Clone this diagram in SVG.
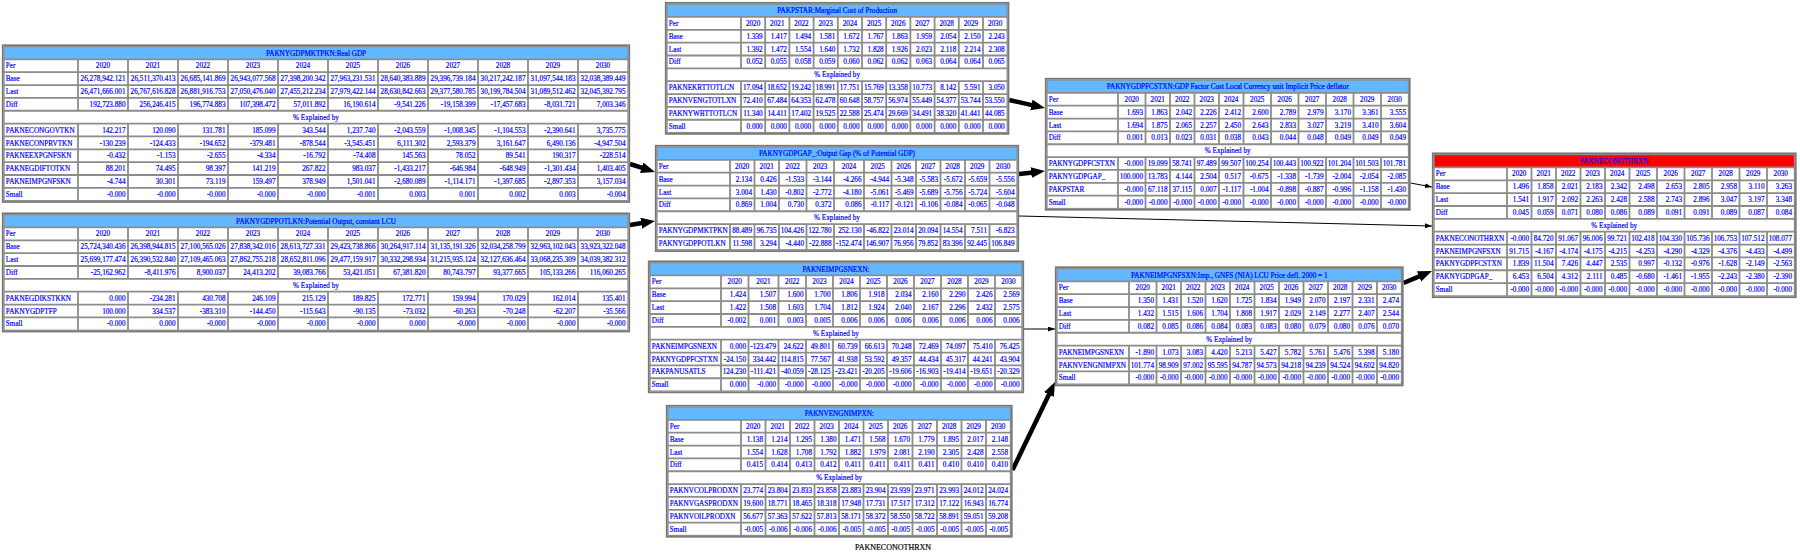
<svg xmlns="http://www.w3.org/2000/svg" width="1800" height="554" viewBox="0 0 1800 554">
<style>
text{font-family:"Liberation Serif","Times New Roman",serif;font-size:7.2px;fill:#0000ff;stroke:#0000ff;stroke-width:0.18}
.l{text-anchor:start}.c{text-anchor:middle}.r{text-anchor:end}
.ob{fill:#fff;stroke:#777;stroke-width:1.8}
.ib{fill:none;stroke:#8c8c8c;stroke-width:1.3}
.gr{fill:none;stroke:#8c8c8c;stroke-width:1.8}
.tb{fill:#63b8ff}.tr{fill:#ff0000}
.thin{stroke:#000;stroke-width:1;fill:none}
.thick{stroke:#000;stroke-width:4.5;fill:none}
.lbl{fill:#000;stroke:#000;font-size:8px;text-anchor:middle}
</style>
<defs>
<marker id="ah" markerUnits="userSpaceOnUse" markerWidth="15" markerHeight="12" refX="4" refY="5.5" orient="auto"><path d="M0,0L14,5.5L0,11z" fill="#000"/></marker>
<marker id="at" markerUnits="userSpaceOnUse" markerWidth="8" markerHeight="6" refX="7" refY="2.5" orient="auto"><path d="M0,0L7,2.5L0,5z" fill="#000"/></marker>
</defs>
<rect width="1800" height="554" fill="#fff"/>

<g id="edges">
<line class="thick" x1="630" y1="164" x2="645.48" y2="168.95" marker-end="url(#ah)"/>
<line class="thick" x1="630" y1="225" x2="645.13" y2="222.58" marker-end="url(#ah)"/>
<line class="thick" x1="1009.2" y1="100" x2="1035.24" y2="105.83" marker-end="url(#ah)"/>
<line class="thick" x1="1019" y1="174" x2="1035.07" y2="172.15" marker-end="url(#ah)"/>
<line class="thin" x1="1024" y1="329" x2="1055" y2="329" marker-end="url(#at)"/>
<line class="thick" x1="1012.5" y1="470" x2="1050.65" y2="391" marker-end="url(#ah)"/>
<line class="thin" x1="1410.5" y1="183" x2="1432" y2="187" marker-end="url(#at)"/>
<line class="thin" x1="1019" y1="216" x2="1432" y2="226" marker-end="url(#at)"/>
<line class="thick" x1="1403.5" y1="283" x2="1422.78" y2="274.88" marker-end="url(#ah)"/>
</g>

<g id="PAKNYGDPMKTPKN" transform="translate(2,44.5)">
<rect class="ob" x="0.75" y="0.75" width="626.5" height="156.7"/>
<rect class="tb" x="2" y="2" width="624" height="12.85"/>
<path class="gr" d="M2,14.85H626M2,27.7H626M2,40.55H626M2,53.4H626M2,66.25H626M2,79.1H626M2,91.95H626M2,104.8H626M2,117.65H626M2,130.5H626M2,143.35H626M76,14.85V66.25M76,79.1V156.2M126,14.85V66.25M126,79.1V156.2M176,14.85V66.25M176,79.1V156.2M226,14.85V66.25M226,79.1V156.2M276,14.85V66.25M276,79.1V156.2M326,14.85V66.25M326,79.1V156.2M376,14.85V66.25M376,79.1V156.2M426,14.85V66.25M426,79.1V156.2M476,14.85V66.25M476,79.1V156.2M526,14.85V66.25M526,79.1V156.2M576,14.85V66.25M576,79.1V156.2"/>
<rect class="ib" x="2" y="2" width="624" height="154.2"/>
<text class="c" x="314" y="11">PAKNYGDPMKTPKN:Real GDP</text>
<text class="c" x="314" y="75.3">% Explained by</text>
<text class="l"><tspan x="3.8" y="23.9">Per</tspan><tspan x="3.8" y="36.7">Base</tspan><tspan x="3.8" y="49.6">Last</tspan><tspan x="3.8" y="62.4">Diff</tspan><tspan x="3.8" y="88.1">PAKNECONGOVTKN</tspan><tspan x="3.8" y="101">PAKNECONPRVTKN</tspan><tspan x="3.8" y="113.8">PAKNEEXPGNFSKN</tspan><tspan x="3.8" y="126.7">PAKNEGDIFTOTKN</tspan><tspan x="3.8" y="139.5">PAKNEIMPGNFSKN</tspan><tspan x="3.8" y="152.4">Small</tspan></text>
<text class="c" y="23.9"><tspan x="101">2020</tspan><tspan x="151">2021</tspan><tspan x="201">2022</tspan><tspan x="251">2023</tspan><tspan x="301">2024</tspan><tspan x="351">2025</tspan><tspan x="401">2026</tspan><tspan x="451">2027</tspan><tspan x="501">2028</tspan><tspan x="551">2029</tspan><tspan x="601">2030</tspan></text>
<text class="r" y="36.7"><tspan x="123.5">26,278,942.121</tspan><tspan x="173.5">26,511,370.413</tspan><tspan x="223.5">26,685,141.869</tspan><tspan x="273.5">26,943,077.568</tspan><tspan x="323.5">27,398,200.342</tspan><tspan x="373.5">27,963,231.531</tspan><tspan x="423.5">28,640,383.889</tspan><tspan x="473.5">29,396,739.184</tspan><tspan x="523.5">30,217,242.187</tspan><tspan x="573.5">31,097,544.183</tspan><tspan x="623.5">32,038,389.449</tspan></text>
<text class="r" y="49.6"><tspan x="123.5">26,471,666.001</tspan><tspan x="173.5">26,767,616.828</tspan><tspan x="223.5">26,881,916.753</tspan><tspan x="273.5">27,050,476.040</tspan><tspan x="323.5">27,455,212.234</tspan><tspan x="373.5">27,979,422.144</tspan><tspan x="423.5">28,630,842.663</tspan><tspan x="473.5">29,377,580.785</tspan><tspan x="523.5">30,199,784.504</tspan><tspan x="573.5">31,089,512.462</tspan><tspan x="623.5">32,045,392.795</tspan></text>
<text class="r" y="62.4"><tspan x="123.5">192,723.880</tspan><tspan x="173.5">256,246.415</tspan><tspan x="223.5">196,774.883</tspan><tspan x="273.5">107,398.472</tspan><tspan x="323.5">57,011.892</tspan><tspan x="373.5">16,190.614</tspan><tspan x="423.5">-9,541.226</tspan><tspan x="473.5">-19,158.399</tspan><tspan x="523.5">-17,457.683</tspan><tspan x="573.5">-8,031.721</tspan><tspan x="623.5">7,003.346</tspan></text>
<text class="r" y="88.1"><tspan x="123.5">142.217</tspan><tspan x="173.5">120.090</tspan><tspan x="223.5">131.781</tspan><tspan x="273.5">185.099</tspan><tspan x="323.5">343.544</tspan><tspan x="373.5">1,237.740</tspan><tspan x="423.5">-2,043.559</tspan><tspan x="473.5">-1,008.345</tspan><tspan x="523.5">-1,104.553</tspan><tspan x="573.5">-2,390.641</tspan><tspan x="623.5">3,735.775</tspan></text>
<text class="r" y="101"><tspan x="123.5">-130.239</tspan><tspan x="173.5">-124.433</tspan><tspan x="223.5">-194.652</tspan><tspan x="273.5">-379.481</tspan><tspan x="323.5">-878.544</tspan><tspan x="373.5">-3,545.451</tspan><tspan x="423.5">6,111.302</tspan><tspan x="473.5">2,593.379</tspan><tspan x="523.5">3,161.647</tspan><tspan x="573.5">6,490.136</tspan><tspan x="623.5">-4,947.504</tspan></text>
<text class="r" y="113.8"><tspan x="123.5">-0.432</tspan><tspan x="173.5">-1.153</tspan><tspan x="223.5">-2.655</tspan><tspan x="273.5">-4.334</tspan><tspan x="323.5">-16.792</tspan><tspan x="373.5">-74.408</tspan><tspan x="423.5">145.563</tspan><tspan x="473.5">78.052</tspan><tspan x="523.5">89.541</tspan><tspan x="573.5">190.317</tspan><tspan x="623.5">-228.514</tspan></text>
<text class="r" y="126.7"><tspan x="123.5">88.201</tspan><tspan x="173.5">74.495</tspan><tspan x="223.5">98.397</tspan><tspan x="273.5">141.219</tspan><tspan x="323.5">267.822</tspan><tspan x="373.5">983.037</tspan><tspan x="423.5">-1,433.217</tspan><tspan x="473.5">-646.984</tspan><tspan x="523.5">-648.949</tspan><tspan x="573.5">-1,301.434</tspan><tspan x="623.5">1,403.405</tspan></text>
<text class="r" y="139.5"><tspan x="123.5">-4.744</tspan><tspan x="173.5">30.301</tspan><tspan x="223.5">73.119</tspan><tspan x="273.5">159.497</tspan><tspan x="323.5">378.949</tspan><tspan x="373.5">1,501.041</tspan><tspan x="423.5">-2,680.089</tspan><tspan x="473.5">-1,114.171</tspan><tspan x="523.5">-1,397.685</tspan><tspan x="573.5">-2,897.353</tspan><tspan x="623.5">3,157.034</tspan></text>
<text class="r" y="152.4"><tspan x="123.5">-0.000</tspan><tspan x="173.5">-0.000</tspan><tspan x="223.5">-0.000</tspan><tspan x="273.5">-0.000</tspan><tspan x="323.5">-0.000</tspan><tspan x="373.5">-0.001</tspan><tspan x="423.5">0.003</tspan><tspan x="473.5">0.001</tspan><tspan x="523.5">0.002</tspan><tspan x="573.5">0.003</tspan><tspan x="623.5">-0.004</tspan></text>
</g>

<g id="PAKNYGDPPOTLKN" transform="translate(2,212.6)">
<rect class="ob" x="0.75" y="0.75" width="626.5" height="118.15"/>
<rect class="tb" x="2" y="2" width="624" height="12.85"/>
<path class="gr" d="M2,14.85H626M2,27.7H626M2,40.55H626M2,53.4H626M2,66.25H626M2,79.1H626M2,91.95H626M2,104.8H626M76,14.85V66.25M76,79.1V117.65M126,14.85V66.25M126,79.1V117.65M176,14.85V66.25M176,79.1V117.65M226,14.85V66.25M226,79.1V117.65M276,14.85V66.25M276,79.1V117.65M326,14.85V66.25M326,79.1V117.65M376,14.85V66.25M376,79.1V117.65M426,14.85V66.25M426,79.1V117.65M476,14.85V66.25M476,79.1V117.65M526,14.85V66.25M526,79.1V117.65M576,14.85V66.25M576,79.1V117.65"/>
<rect class="ib" x="2" y="2" width="624" height="115.65"/>
<text class="c" x="314" y="11">PAKNYGDPPOTLKN:Potential Output, constant LCU</text>
<text class="c" x="314" y="75.3">% Explained by</text>
<text class="l"><tspan x="3.8" y="23.9">Per</tspan><tspan x="3.8" y="36.7">Base</tspan><tspan x="3.8" y="49.6">Last</tspan><tspan x="3.8" y="62.4">Diff</tspan><tspan x="3.8" y="88.1">PAKNEGDIKSTKKN</tspan><tspan x="3.8" y="101">PAKNYGDPTFP</tspan><tspan x="3.8" y="113.8">Small</tspan></text>
<text class="c" y="23.9"><tspan x="101">2020</tspan><tspan x="151">2021</tspan><tspan x="201">2022</tspan><tspan x="251">2023</tspan><tspan x="301">2024</tspan><tspan x="351">2025</tspan><tspan x="401">2026</tspan><tspan x="451">2027</tspan><tspan x="501">2028</tspan><tspan x="551">2029</tspan><tspan x="601">2030</tspan></text>
<text class="r" y="36.7"><tspan x="123.5">25,724,340.436</tspan><tspan x="173.5">26,398,944.815</tspan><tspan x="223.5">27,100,565.026</tspan><tspan x="273.5">27,838,342.016</tspan><tspan x="323.5">28,613,727.331</tspan><tspan x="373.5">29,423,738.866</tspan><tspan x="423.5">30,264,917.114</tspan><tspan x="473.5">31,135,191.326</tspan><tspan x="523.5">32,034,258.799</tspan><tspan x="573.5">32,963,102.043</tspan><tspan x="623.5">33,923,322.048</tspan></text>
<text class="r" y="49.6"><tspan x="123.5">25,699,177.474</tspan><tspan x="173.5">26,390,532.840</tspan><tspan x="223.5">27,109,465.063</tspan><tspan x="273.5">27,862,755.218</tspan><tspan x="323.5">28,652,811.096</tspan><tspan x="373.5">29,477,159.917</tspan><tspan x="423.5">30,332,298.934</tspan><tspan x="473.5">31,215,935.124</tspan><tspan x="523.5">32,127,636.464</tspan><tspan x="573.5">33,068,235.309</tspan><tspan x="623.5">34,039,382.312</tspan></text>
<text class="r" y="62.4"><tspan x="123.5">-25,162.962</tspan><tspan x="173.5">-8,411.976</tspan><tspan x="223.5">8,900.037</tspan><tspan x="273.5">24,413.202</tspan><tspan x="323.5">39,083.766</tspan><tspan x="373.5">53,421.051</tspan><tspan x="423.5">67,381.820</tspan><tspan x="473.5">80,743.797</tspan><tspan x="523.5">93,377.665</tspan><tspan x="573.5">105,133.266</tspan><tspan x="623.5">116,060.265</tspan></text>
<text class="r" y="88.1"><tspan x="123.5">0.000</tspan><tspan x="173.5">-234.281</tspan><tspan x="223.5">430.708</tspan><tspan x="273.5">246.109</tspan><tspan x="323.5">215.129</tspan><tspan x="373.5">189.825</tspan><tspan x="423.5">172.771</tspan><tspan x="473.5">159.994</tspan><tspan x="523.5">170.029</tspan><tspan x="573.5">162.014</tspan><tspan x="623.5">135.401</tspan></text>
<text class="r" y="101"><tspan x="123.5">100.000</tspan><tspan x="173.5">334.537</tspan><tspan x="223.5">-383.310</tspan><tspan x="273.5">-144.450</tspan><tspan x="323.5">-115.643</tspan><tspan x="373.5">-90.135</tspan><tspan x="423.5">-73.032</tspan><tspan x="473.5">-60.263</tspan><tspan x="523.5">-70.248</tspan><tspan x="573.5">-62.207</tspan><tspan x="623.5">-35.566</tspan></text>
<text class="r" y="113.8"><tspan x="123.5">-0.000</tspan><tspan x="173.5">0.000</tspan><tspan x="223.5">-0.000</tspan><tspan x="273.5">-0.000</tspan><tspan x="323.5">-0.000</tspan><tspan x="373.5">-0.000</tspan><tspan x="423.5">0.000</tspan><tspan x="473.5">-0.000</tspan><tspan x="523.5">-0.000</tspan><tspan x="573.5">-0.000</tspan><tspan x="623.5">-0.000</tspan></text>
</g>

<g id="PAKPSTAR" transform="translate(665,2.1)">
<rect class="ob" x="0.75" y="0.75" width="342.7" height="131"/>
<rect class="tb" x="2" y="2" width="340.2" height="12.85"/>
<path class="gr" d="M2,14.85H342.2M2,27.7H342.2M2,40.55H342.2M2,53.4H342.2M2,66.25H342.2M2,79.1H342.2M2,91.95H342.2M2,104.8H342.2M2,117.65H342.2M76,14.85V66.25M76,79.1V130.5M100.2,14.85V66.25M100.2,79.1V130.5M124.4,14.85V66.25M124.4,79.1V130.5M148.6,14.85V66.25M148.6,79.1V130.5M172.8,14.85V66.25M172.8,79.1V130.5M197,14.85V66.25M197,79.1V130.5M221.2,14.85V66.25M221.2,79.1V130.5M245.4,14.85V66.25M245.4,79.1V130.5M269.6,14.85V66.25M269.6,79.1V130.5M293.8,14.85V66.25M293.8,79.1V130.5M318,14.85V66.25M318,79.1V130.5"/>
<rect class="ib" x="2" y="2" width="340.2" height="128.5"/>
<text class="c" x="172.1" y="11">PAKPSTAR:Marginal Cost of Production</text>
<text class="c" x="172.1" y="75.3">% Explained by</text>
<text class="l"><tspan x="3.8" y="23.9">Per</tspan><tspan x="3.8" y="36.7">Base</tspan><tspan x="3.8" y="49.6">Last</tspan><tspan x="3.8" y="62.4">Diff</tspan><tspan x="3.8" y="88.1">PAKNEKRTTOTLCN</tspan><tspan x="3.8" y="101">PAKNVENGTOTLXN</tspan><tspan x="3.8" y="113.8">PAKNYWBTTOTLCN</tspan><tspan x="3.8" y="126.7">Small</tspan></text>
<text class="c" y="23.9"><tspan x="88.1">2020</tspan><tspan x="112.3">2021</tspan><tspan x="136.5">2022</tspan><tspan x="160.7">2023</tspan><tspan x="184.9">2024</tspan><tspan x="209.1">2025</tspan><tspan x="233.3">2026</tspan><tspan x="257.5">2027</tspan><tspan x="281.7">2028</tspan><tspan x="305.9">2029</tspan><tspan x="330.1">2030</tspan></text>
<text class="r" y="36.7"><tspan x="97.7">1.339</tspan><tspan x="121.9">1.417</tspan><tspan x="146.1">1.494</tspan><tspan x="170.3">1.581</tspan><tspan x="194.5">1.672</tspan><tspan x="218.7">1.767</tspan><tspan x="242.9">1.863</tspan><tspan x="267.1">1.959</tspan><tspan x="291.3">2.054</tspan><tspan x="315.5">2.150</tspan><tspan x="339.7">2.243</tspan></text>
<text class="r" y="49.6"><tspan x="97.7">1.392</tspan><tspan x="121.9">1.472</tspan><tspan x="146.1">1.554</tspan><tspan x="170.3">1.640</tspan><tspan x="194.5">1.732</tspan><tspan x="218.7">1.828</tspan><tspan x="242.9">1.926</tspan><tspan x="267.1">2.023</tspan><tspan x="291.3">2.118</tspan><tspan x="315.5">2.214</tspan><tspan x="339.7">2.308</tspan></text>
<text class="r" y="62.4"><tspan x="97.7">0.052</tspan><tspan x="121.9">0.055</tspan><tspan x="146.1">0.058</tspan><tspan x="170.3">0.059</tspan><tspan x="194.5">0.060</tspan><tspan x="218.7">0.062</tspan><tspan x="242.9">0.062</tspan><tspan x="267.1">0.063</tspan><tspan x="291.3">0.064</tspan><tspan x="315.5">0.064</tspan><tspan x="339.7">0.065</tspan></text>
<text class="r" y="88.1"><tspan x="97.7">17.094</tspan><tspan x="121.9">18.652</tspan><tspan x="146.1">19.242</tspan><tspan x="170.3">18.991</tspan><tspan x="194.5">17.751</tspan><tspan x="218.7">15.769</tspan><tspan x="242.9">13.358</tspan><tspan x="267.1">10.773</tspan><tspan x="291.3">8.142</tspan><tspan x="315.5">5.591</tspan><tspan x="339.7">3.050</tspan></text>
<text class="r" y="101"><tspan x="97.7">72.410</tspan><tspan x="121.9">67.484</tspan><tspan x="146.1">64.353</tspan><tspan x="170.3">62.478</tspan><tspan x="194.5">60.648</tspan><tspan x="218.7">58.757</tspan><tspan x="242.9">56.974</tspan><tspan x="267.1">55.449</tspan><tspan x="291.3">54.377</tspan><tspan x="315.5">53.744</tspan><tspan x="339.7">53.550</tspan></text>
<text class="r" y="113.8"><tspan x="97.7">11.340</tspan><tspan x="121.9">14.411</tspan><tspan x="146.1">17.402</tspan><tspan x="170.3">19.525</tspan><tspan x="194.5">22.588</tspan><tspan x="218.7">25.474</tspan><tspan x="242.9">29.669</tspan><tspan x="267.1">34.491</tspan><tspan x="291.3">38.320</tspan><tspan x="315.5">41.441</tspan><tspan x="339.7">44.085</tspan></text>
<text class="r" y="126.7"><tspan x="97.7">0.000</tspan><tspan x="121.9">0.000</tspan><tspan x="146.1">0.000</tspan><tspan x="170.3">0.000</tspan><tspan x="194.5">0.000</tspan><tspan x="218.7">0.000</tspan><tspan x="242.9">0.000</tspan><tspan x="267.1">0.000</tspan><tspan x="291.3">0.000</tspan><tspan x="315.5">0.000</tspan><tspan x="339.7">0.000</tspan></text>
</g>

<g id="PAKNYGDPGAP_" transform="translate(655,145)">
<rect class="ob" x="0.75" y="0.75" width="362.5" height="105.3"/>
<rect class="tb" x="2" y="2" width="360" height="12.85"/>
<path class="gr" d="M2,14.85H362M2,27.7H362M2,40.55H362M2,53.4H362M2,66.25H362M2,79.1H362M2,91.95H362M75,14.85V66.25M75,79.1V104.8M99.5,14.85V66.25M99.5,79.1V104.8M124,14.85V66.25M124,79.1V104.8M151.5,14.85V66.25M151.5,79.1V104.8M179,14.85V66.25M179,79.1V104.8M209,14.85V66.25M209,79.1V104.8M236.5,14.85V66.25M236.5,79.1V104.8M261,14.85V66.25M261,79.1V104.8M285.5,14.85V66.25M285.5,79.1V104.8M310,14.85V66.25M310,79.1V104.8M334.5,14.85V66.25M334.5,79.1V104.8"/>
<rect class="ib" x="2" y="2" width="360" height="102.8"/>
<text class="c" x="182" y="11">PAKNYGDPGAP_:Output Gap (% of Potential GDP)</text>
<text class="c" x="182" y="75.3">% Explained by</text>
<text class="l"><tspan x="3.8" y="23.9">Per</tspan><tspan x="3.8" y="36.7">Base</tspan><tspan x="3.8" y="49.6">Last</tspan><tspan x="3.8" y="62.4">Diff</tspan><tspan x="3.8" y="88.1">PAKNYGDPMKTPKN</tspan><tspan x="3.8" y="101">PAKNYGDPPOTLKN</tspan></text>
<text class="c" y="23.9"><tspan x="87.25">2020</tspan><tspan x="111.75">2021</tspan><tspan x="137.75">2022</tspan><tspan x="165.25">2023</tspan><tspan x="194">2024</tspan><tspan x="222.75">2025</tspan><tspan x="248.75">2026</tspan><tspan x="273.25">2027</tspan><tspan x="297.75">2028</tspan><tspan x="322.25">2029</tspan><tspan x="348.25">2030</tspan></text>
<text class="r" y="36.7"><tspan x="97">2.134</tspan><tspan x="121.5">0.426</tspan><tspan x="149">-1.533</tspan><tspan x="176.5">-3.144</tspan><tspan x="206.5">-4.266</tspan><tspan x="234">-4.944</tspan><tspan x="258.5">-5.348</tspan><tspan x="283">-5.583</tspan><tspan x="307.5">-5.672</tspan><tspan x="332">-5.659</tspan><tspan x="359.5">-5.556</tspan></text>
<text class="r" y="49.6"><tspan x="97">3.004</tspan><tspan x="121.5">1.430</tspan><tspan x="149">-0.802</tspan><tspan x="176.5">-2.772</tspan><tspan x="206.5">-4.180</tspan><tspan x="234">-5.061</tspan><tspan x="258.5">-5.469</tspan><tspan x="283">-5.689</tspan><tspan x="307.5">-5.756</tspan><tspan x="332">-5.724</tspan><tspan x="359.5">-5.604</tspan></text>
<text class="r" y="62.4"><tspan x="97">0.869</tspan><tspan x="121.5">1.004</tspan><tspan x="149">0.730</tspan><tspan x="176.5">0.372</tspan><tspan x="206.5">0.086</tspan><tspan x="234">-0.117</tspan><tspan x="258.5">-0.121</tspan><tspan x="283">-0.106</tspan><tspan x="307.5">-0.084</tspan><tspan x="332">-0.065</tspan><tspan x="359.5">-0.048</tspan></text>
<text class="r" y="88.1"><tspan x="97">88.489</tspan><tspan x="121.5">96.735</tspan><tspan x="149">104.426</tspan><tspan x="176.5">122.780</tspan><tspan x="206.5">252.130</tspan><tspan x="234">-46.822</tspan><tspan x="258.5">23.014</tspan><tspan x="283">20.094</tspan><tspan x="307.5">14.554</tspan><tspan x="332">7.511</tspan><tspan x="359.5">-6.823</tspan></text>
<text class="r" y="101"><tspan x="97">11.598</tspan><tspan x="121.5">3.294</tspan><tspan x="149">-4.440</tspan><tspan x="176.5">-22.888</tspan><tspan x="206.5">-152.474</tspan><tspan x="234">146.907</tspan><tspan x="258.5">76.956</tspan><tspan x="283">79.852</tspan><tspan x="307.5">83.396</tspan><tspan x="332">92.445</tspan><tspan x="359.5">106.849</tspan></text>
</g>

<g id="PAKNEIMPGSNEXN" transform="translate(648,260.6)">
<rect class="ob" x="0.75" y="0.75" width="374.5" height="131"/>
<rect class="tb" x="2" y="2" width="372" height="12.85"/>
<path class="gr" d="M2,14.85H374M2,27.7H374M2,40.55H374M2,53.4H374M2,66.25H374M2,79.1H374M2,91.95H374M2,104.8H374M2,117.65H374M73,14.85V66.25M73,79.1V130.5M100.5,14.85V66.25M100.5,79.1V130.5M130.5,14.85V66.25M130.5,79.1V130.5M158,14.85V66.25M158,79.1V130.5M185,14.85V66.25M185,79.1V130.5M212,14.85V66.25M212,79.1V130.5M239,14.85V66.25M239,79.1V130.5M266,14.85V66.25M266,79.1V130.5M293,14.85V66.25M293,79.1V130.5M320,14.85V66.25M320,79.1V130.5M347,14.85V66.25M347,79.1V130.5"/>
<rect class="ib" x="2" y="2" width="372" height="128.5"/>
<text class="c" x="188" y="11">PAKNEIMPGSNEXN:</text>
<text class="c" x="188" y="75.3">% Explained by</text>
<text class="l"><tspan x="3.8" y="23.9">Per</tspan><tspan x="3.8" y="36.7">Base</tspan><tspan x="3.8" y="49.6">Last</tspan><tspan x="3.8" y="62.4">Diff</tspan><tspan x="3.8" y="88.1">PAKNEIMPGSNEXN</tspan><tspan x="3.8" y="101">PAKNYGDPFCSTXN</tspan><tspan x="3.8" y="113.8">PAKPANUSATLS</tspan><tspan x="3.8" y="126.7">Small</tspan></text>
<text class="c" y="23.9"><tspan x="86.75">2020</tspan><tspan x="115.5">2021</tspan><tspan x="144.25">2022</tspan><tspan x="171.5">2023</tspan><tspan x="198.5">2024</tspan><tspan x="225.5">2025</tspan><tspan x="252.5">2026</tspan><tspan x="279.5">2027</tspan><tspan x="306.5">2028</tspan><tspan x="333.5">2029</tspan><tspan x="360.5">2030</tspan></text>
<text class="r" y="36.7"><tspan x="98">1.424</tspan><tspan x="128">1.507</tspan><tspan x="155.5">1.600</tspan><tspan x="182.5">1.700</tspan><tspan x="209.5">1.806</tspan><tspan x="236.5">1.918</tspan><tspan x="263.5">2.034</tspan><tspan x="290.5">2.160</tspan><tspan x="317.5">2.290</tspan><tspan x="344.5">2.426</tspan><tspan x="371.5">2.569</tspan></text>
<text class="r" y="49.6"><tspan x="98">1.422</tspan><tspan x="128">1.508</tspan><tspan x="155.5">1.603</tspan><tspan x="182.5">1.704</tspan><tspan x="209.5">1.812</tspan><tspan x="236.5">1.924</tspan><tspan x="263.5">2.040</tspan><tspan x="290.5">2.167</tspan><tspan x="317.5">2.296</tspan><tspan x="344.5">2.432</tspan><tspan x="371.5">2.575</tspan></text>
<text class="r" y="62.4"><tspan x="98">-0.002</tspan><tspan x="128">0.001</tspan><tspan x="155.5">0.003</tspan><tspan x="182.5">0.005</tspan><tspan x="209.5">0.006</tspan><tspan x="236.5">0.006</tspan><tspan x="263.5">0.006</tspan><tspan x="290.5">0.006</tspan><tspan x="317.5">0.006</tspan><tspan x="344.5">0.006</tspan><tspan x="371.5">0.006</tspan></text>
<text class="r" y="88.1"><tspan x="98">0.000</tspan><tspan x="128">-123.479</tspan><tspan x="155.5">24.622</tspan><tspan x="182.5">49.801</tspan><tspan x="209.5">60.739</tspan><tspan x="236.5">66.613</tspan><tspan x="263.5">70.248</tspan><tspan x="290.5">72.469</tspan><tspan x="317.5">74.097</tspan><tspan x="344.5">75.410</tspan><tspan x="371.5">76.425</tspan></text>
<text class="r" y="101"><tspan x="98">-24.150</tspan><tspan x="128">334.442</tspan><tspan x="155.5">114.815</tspan><tspan x="182.5">77.567</tspan><tspan x="209.5">41.938</tspan><tspan x="236.5">53.592</tspan><tspan x="263.5">49.357</tspan><tspan x="290.5">44.434</tspan><tspan x="317.5">45.317</tspan><tspan x="344.5">44.241</tspan><tspan x="371.5">43.904</tspan></text>
<text class="r" y="113.8"><tspan x="98">124.230</tspan><tspan x="128">-111.421</tspan><tspan x="155.5">-40.059</tspan><tspan x="182.5">-28.125</tspan><tspan x="209.5">-23.421</tspan><tspan x="236.5">-20.205</tspan><tspan x="263.5">-19.606</tspan><tspan x="290.5">-16.903</tspan><tspan x="317.5">-19.414</tspan><tspan x="344.5">-19.651</tspan><tspan x="371.5">-20.329</tspan></text>
<text class="r" y="126.7"><tspan x="98">0.000</tspan><tspan x="128">-0.000</tspan><tspan x="155.5">-0.000</tspan><tspan x="182.5">-0.000</tspan><tspan x="209.5">-0.000</tspan><tspan x="236.5">-0.000</tspan><tspan x="263.5">-0.000</tspan><tspan x="290.5">-0.000</tspan><tspan x="317.5">-0.000</tspan><tspan x="344.5">-0.000</tspan><tspan x="371.5">-0.000</tspan></text>
</g>

<g id="PAKNVENGNIMPXN" transform="translate(666,405)">
<rect class="ob" x="0.75" y="0.75" width="345" height="131"/>
<rect class="tb" x="2" y="2" width="342.5" height="12.85"/>
<path class="gr" d="M2,14.85H344.5M2,27.7H344.5M2,40.55H344.5M2,53.4H344.5M2,66.25H344.5M2,79.1H344.5M2,91.95H344.5M2,104.8H344.5M2,117.65H344.5M75,14.85V66.25M75,79.1V130.5M99.5,14.85V66.25M99.5,79.1V130.5M124,14.85V66.25M124,79.1V130.5M148.5,14.85V66.25M148.5,79.1V130.5M173,14.85V66.25M173,79.1V130.5M197.5,14.85V66.25M197.5,79.1V130.5M222,14.85V66.25M222,79.1V130.5M246.5,14.85V66.25M246.5,79.1V130.5M271,14.85V66.25M271,79.1V130.5M295.5,14.85V66.25M295.5,79.1V130.5M320,14.85V66.25M320,79.1V130.5"/>
<rect class="ib" x="2" y="2" width="342.5" height="128.5"/>
<text class="c" x="173.25" y="11">PAKNVENGNIMPXN:</text>
<text class="c" x="173.25" y="75.3">% Explained by</text>
<text class="l"><tspan x="3.8" y="23.9">Per</tspan><tspan x="3.8" y="36.7">Base</tspan><tspan x="3.8" y="49.6">Last</tspan><tspan x="3.8" y="62.4">Diff</tspan><tspan x="3.8" y="88.1">PAKNVCOLPRODXN</tspan><tspan x="3.8" y="101">PAKNVGASPRODXN</tspan><tspan x="3.8" y="113.8">PAKNVOILPRODXN</tspan><tspan x="3.8" y="126.7">Small</tspan></text>
<text class="c" y="23.9"><tspan x="87.25">2020</tspan><tspan x="111.75">2021</tspan><tspan x="136.25">2022</tspan><tspan x="160.75">2023</tspan><tspan x="185.25">2024</tspan><tspan x="209.75">2025</tspan><tspan x="234.25">2026</tspan><tspan x="258.75">2027</tspan><tspan x="283.25">2028</tspan><tspan x="307.75">2029</tspan><tspan x="332.25">2030</tspan></text>
<text class="r" y="36.7"><tspan x="97">1.138</tspan><tspan x="121.5">1.214</tspan><tspan x="146">1.295</tspan><tspan x="170.5">1.380</tspan><tspan x="195">1.471</tspan><tspan x="219.5">1.568</tspan><tspan x="244">1.670</tspan><tspan x="268.5">1.779</tspan><tspan x="293">1.895</tspan><tspan x="317.5">2.017</tspan><tspan x="342">2.148</tspan></text>
<text class="r" y="49.6"><tspan x="97">1.554</tspan><tspan x="121.5">1.628</tspan><tspan x="146">1.708</tspan><tspan x="170.5">1.792</tspan><tspan x="195">1.882</tspan><tspan x="219.5">1.979</tspan><tspan x="244">2.081</tspan><tspan x="268.5">2.190</tspan><tspan x="293">2.305</tspan><tspan x="317.5">2.428</tspan><tspan x="342">2.558</tspan></text>
<text class="r" y="62.4"><tspan x="97">0.415</tspan><tspan x="121.5">0.414</tspan><tspan x="146">0.413</tspan><tspan x="170.5">0.412</tspan><tspan x="195">0.411</tspan><tspan x="219.5">0.411</tspan><tspan x="244">0.411</tspan><tspan x="268.5">0.411</tspan><tspan x="293">0.410</tspan><tspan x="317.5">0.410</tspan><tspan x="342">0.410</tspan></text>
<text class="r" y="88.1"><tspan x="97">23.774</tspan><tspan x="121.5">23.804</tspan><tspan x="146">23.833</tspan><tspan x="170.5">23.858</tspan><tspan x="195">23.883</tspan><tspan x="219.5">23.904</tspan><tspan x="244">23.939</tspan><tspan x="268.5">23.971</tspan><tspan x="293">23.993</tspan><tspan x="317.5">24.012</tspan><tspan x="342">24.024</tspan></text>
<text class="r" y="101"><tspan x="97">19.600</tspan><tspan x="121.5">18.771</tspan><tspan x="146">18.465</tspan><tspan x="170.5">18.318</tspan><tspan x="195">17.948</tspan><tspan x="219.5">17.731</tspan><tspan x="244">17.517</tspan><tspan x="268.5">17.312</tspan><tspan x="293">17.122</tspan><tspan x="317.5">16.943</tspan><tspan x="342">16.774</tspan></text>
<text class="r" y="113.8"><tspan x="97">56.677</tspan><tspan x="121.5">57.363</tspan><tspan x="146">57.622</tspan><tspan x="170.5">57.813</tspan><tspan x="195">58.171</tspan><tspan x="219.5">58.372</tspan><tspan x="244">58.550</tspan><tspan x="268.5">58.722</tspan><tspan x="293">58.891</tspan><tspan x="317.5">59.051</tspan><tspan x="342">59.208</tspan></text>
<text class="r" y="126.7"><tspan x="97">-0.005</tspan><tspan x="121.5">-0.006</tspan><tspan x="146">-0.006</tspan><tspan x="170.5">-0.006</tspan><tspan x="195">-0.005</tspan><tspan x="219.5">-0.005</tspan><tspan x="244">-0.005</tspan><tspan x="268.5">-0.005</tspan><tspan x="293">-0.005</tspan><tspan x="317.5">-0.005</tspan><tspan x="342">-0.005</tspan></text>
</g>

<g id="PAKNYGDPFCSTXN" transform="translate(1045,78)">
<rect class="ob" x="0.75" y="0.75" width="364" height="131"/>
<rect class="tb" x="2" y="2" width="361.5" height="12.85"/>
<path class="gr" d="M2,14.85H363.5M2,27.7H363.5M2,40.55H363.5M2,53.4H363.5M2,66.25H363.5M2,79.1H363.5M2,91.95H363.5M2,104.8H363.5M2,117.65H363.5M73,14.85V66.25M73,79.1V130.5M100.5,14.85V66.25M100.5,79.1V130.5M125,14.85V66.25M125,79.1V130.5M149.5,14.85V66.25M149.5,79.1V130.5M174,14.85V66.25M174,79.1V130.5M198.5,14.85V66.25M198.5,79.1V130.5M226,14.85V66.25M226,79.1V130.5M253.5,14.85V66.25M253.5,79.1V130.5M281,14.85V66.25M281,79.1V130.5M308.5,14.85V66.25M308.5,79.1V130.5M336,14.85V66.25M336,79.1V130.5"/>
<rect class="ib" x="2" y="2" width="361.5" height="128.5"/>
<text class="c" x="182.75" y="11">PAKNYGDPFCSTXN:GDP Factor Cost Local Currency unit Implicit Price deflator</text>
<text class="c" x="182.75" y="75.3">% Explained by</text>
<text class="l"><tspan x="3.8" y="23.9">Per</tspan><tspan x="3.8" y="36.7">Base</tspan><tspan x="3.8" y="49.6">Last</tspan><tspan x="3.8" y="62.4">Diff</tspan><tspan x="3.8" y="88.1">PAKNYGDPFCSTXN</tspan><tspan x="3.8" y="101">PAKNYGDPGAP_</tspan><tspan x="3.8" y="113.8">PAKPSTAR</tspan><tspan x="3.8" y="126.7">Small</tspan></text>
<text class="c" y="23.9"><tspan x="86.75">2020</tspan><tspan x="112.75">2021</tspan><tspan x="137.25">2022</tspan><tspan x="161.75">2023</tspan><tspan x="186.25">2024</tspan><tspan x="212.25">2025</tspan><tspan x="239.75">2026</tspan><tspan x="267.25">2027</tspan><tspan x="294.75">2028</tspan><tspan x="322.25">2029</tspan><tspan x="349.75">2030</tspan></text>
<text class="r" y="36.7"><tspan x="98">1.693</tspan><tspan x="122.5">1.863</tspan><tspan x="147">2.042</tspan><tspan x="171.5">2.226</tspan><tspan x="196">2.412</tspan><tspan x="223.5">2.600</tspan><tspan x="251">2.789</tspan><tspan x="278.5">2.979</tspan><tspan x="306">3.170</tspan><tspan x="333.5">3.361</tspan><tspan x="361">3.555</tspan></text>
<text class="r" y="49.6"><tspan x="98">1.694</tspan><tspan x="122.5">1.875</tspan><tspan x="147">2.065</tspan><tspan x="171.5">2.257</tspan><tspan x="196">2.450</tspan><tspan x="223.5">2.643</tspan><tspan x="251">2.833</tspan><tspan x="278.5">3.027</tspan><tspan x="306">3.219</tspan><tspan x="333.5">3.410</tspan><tspan x="361">3.604</tspan></text>
<text class="r" y="62.4"><tspan x="98">0.001</tspan><tspan x="122.5">0.013</tspan><tspan x="147">0.023</tspan><tspan x="171.5">0.031</tspan><tspan x="196">0.038</tspan><tspan x="223.5">0.043</tspan><tspan x="251">0.044</tspan><tspan x="278.5">0.048</tspan><tspan x="306">0.049</tspan><tspan x="333.5">0.049</tspan><tspan x="361">0.049</tspan></text>
<text class="r" y="88.1"><tspan x="98">-0.000</tspan><tspan x="122.5">19.099</tspan><tspan x="147">58.741</tspan><tspan x="171.5">97.489</tspan><tspan x="196">99.507</tspan><tspan x="223.5">100.254</tspan><tspan x="251">100.443</tspan><tspan x="278.5">100.922</tspan><tspan x="306">101.204</tspan><tspan x="333.5">101.503</tspan><tspan x="361">101.781</tspan></text>
<text class="r" y="101"><tspan x="98">100.000</tspan><tspan x="122.5">13.783</tspan><tspan x="147">4.144</tspan><tspan x="171.5">2.504</tspan><tspan x="196">0.517</tspan><tspan x="223.5">-0.675</tspan><tspan x="251">-1.338</tspan><tspan x="278.5">-1.739</tspan><tspan x="306">-2.004</tspan><tspan x="333.5">-2.054</tspan><tspan x="361">-2.085</tspan></text>
<text class="r" y="113.8"><tspan x="98">-0.000</tspan><tspan x="122.5">67.118</tspan><tspan x="147">37.115</tspan><tspan x="171.5">0.007</tspan><tspan x="196">-1.117</tspan><tspan x="223.5">-1.004</tspan><tspan x="251">-0.898</tspan><tspan x="278.5">-0.887</tspan><tspan x="306">-0.996</tspan><tspan x="333.5">-1.158</tspan><tspan x="361">-1.430</tspan></text>
<text class="r" y="126.7"><tspan x="98">-0.000</tspan><tspan x="122.5">-0.000</tspan><tspan x="147">-0.000</tspan><tspan x="171.5">-0.000</tspan><tspan x="196">-0.000</tspan><tspan x="223.5">-0.000</tspan><tspan x="251">-0.000</tspan><tspan x="278.5">-0.000</tspan><tspan x="306">-0.000</tspan><tspan x="333.5">-0.000</tspan><tspan x="361">-0.000</tspan></text>
</g>

<g id="PAKNEIMPGNFSXN" transform="translate(1055,266.5)">
<rect class="ob" x="0.75" y="0.75" width="347" height="118.15"/>
<rect class="tb" x="2" y="2" width="344.5" height="12.85"/>
<path class="gr" d="M2,14.85H346.5M2,27.7H346.5M2,40.55H346.5M2,53.4H346.5M2,66.25H346.5M2,79.1H346.5M2,91.95H346.5M2,104.8H346.5M74,14.85V66.25M74,79.1V117.65M101.5,14.85V66.25M101.5,79.1V117.65M126,14.85V66.25M126,79.1V117.65M150.5,14.85V66.25M150.5,79.1V117.65M175,14.85V66.25M175,79.1V117.65M199.5,14.85V66.25M199.5,79.1V117.65M224,14.85V66.25M224,79.1V117.65M248.5,14.85V66.25M248.5,79.1V117.65M273,14.85V66.25M273,79.1V117.65M297.5,14.85V66.25M297.5,79.1V117.65M322,14.85V66.25M322,79.1V117.65"/>
<rect class="ib" x="2" y="2" width="344.5" height="115.65"/>
<text class="c" x="174.25" y="11">PAKNEIMPGNFSXN:Imp., GNFS (NIA) LCU Price defl. 2000 = 1</text>
<text class="c" x="174.25" y="75.3">% Explained by</text>
<text class="l"><tspan x="3.8" y="23.9">Per</tspan><tspan x="3.8" y="36.7">Base</tspan><tspan x="3.8" y="49.6">Last</tspan><tspan x="3.8" y="62.4">Diff</tspan><tspan x="3.8" y="88.1">PAKNEIMPGSNEXN</tspan><tspan x="3.8" y="101">PAKNVENGNIMPXN</tspan><tspan x="3.8" y="113.8">Small</tspan></text>
<text class="c" y="23.9"><tspan x="87.75">2020</tspan><tspan x="113.75">2021</tspan><tspan x="138.25">2022</tspan><tspan x="162.75">2023</tspan><tspan x="187.25">2024</tspan><tspan x="211.75">2025</tspan><tspan x="236.25">2026</tspan><tspan x="260.75">2027</tspan><tspan x="285.25">2028</tspan><tspan x="309.75">2029</tspan><tspan x="334.25">2030</tspan></text>
<text class="r" y="36.7"><tspan x="99">1.350</tspan><tspan x="123.5">1.431</tspan><tspan x="148">1.520</tspan><tspan x="172.5">1.620</tspan><tspan x="197">1.725</tspan><tspan x="221.5">1.834</tspan><tspan x="246">1.949</tspan><tspan x="270.5">2.070</tspan><tspan x="295">2.197</tspan><tspan x="319.5">2.331</tspan><tspan x="344">2.474</tspan></text>
<text class="r" y="49.6"><tspan x="99">1.432</tspan><tspan x="123.5">1.515</tspan><tspan x="148">1.606</tspan><tspan x="172.5">1.704</tspan><tspan x="197">1.808</tspan><tspan x="221.5">1.917</tspan><tspan x="246">2.029</tspan><tspan x="270.5">2.149</tspan><tspan x="295">2.277</tspan><tspan x="319.5">2.407</tspan><tspan x="344">2.544</tspan></text>
<text class="r" y="62.4"><tspan x="99">0.082</tspan><tspan x="123.5">0.085</tspan><tspan x="148">0.086</tspan><tspan x="172.5">0.084</tspan><tspan x="197">0.083</tspan><tspan x="221.5">0.083</tspan><tspan x="246">0.080</tspan><tspan x="270.5">0.079</tspan><tspan x="295">0.080</tspan><tspan x="319.5">0.076</tspan><tspan x="344">0.070</tspan></text>
<text class="r" y="88.1"><tspan x="99">-1.890</tspan><tspan x="123.5">1.073</tspan><tspan x="148">3.083</tspan><tspan x="172.5">4.420</tspan><tspan x="197">5.213</tspan><tspan x="221.5">5.427</tspan><tspan x="246">5.782</tspan><tspan x="270.5">5.761</tspan><tspan x="295">5.476</tspan><tspan x="319.5">5.398</tspan><tspan x="344">5.180</tspan></text>
<text class="r" y="101"><tspan x="99">101.774</tspan><tspan x="123.5">98.909</tspan><tspan x="148">97.002</tspan><tspan x="172.5">95.595</tspan><tspan x="197">94.787</tspan><tspan x="221.5">94.573</tspan><tspan x="246">94.218</tspan><tspan x="270.5">94.239</tspan><tspan x="295">94.524</tspan><tspan x="319.5">94.602</tspan><tspan x="344">94.820</tspan></text>
<text class="r" y="113.8"><tspan x="99">-0.000</tspan><tspan x="123.5">-0.000</tspan><tspan x="148">-0.000</tspan><tspan x="172.5">-0.000</tspan><tspan x="197">-0.000</tspan><tspan x="221.5">-0.000</tspan><tspan x="246">-0.000</tspan><tspan x="270.5">-0.000</tspan><tspan x="295">-0.000</tspan><tspan x="319.5">-0.000</tspan><tspan x="344">-0.000</tspan></text>
</g>

<g id="PAKNECONOTHRXN" transform="translate(1432,152.6)">
<rect class="ob" x="0.75" y="0.75" width="363" height="143.85"/>
<rect class="tr" x="2" y="2" width="360.5" height="12.85"/>
<path class="gr" d="M2,14.85H362.5M2,27.7H362.5M2,40.55H362.5M2,53.4H362.5M2,66.25H362.5M2,79.1H362.5M2,91.95H362.5M2,104.8H362.5M2,117.65H362.5M2,130.5H362.5M75,14.85V66.25M75,79.1V143.35M99.5,14.85V66.25M99.5,79.1V143.35M124,14.85V66.25M124,79.1V143.35M148.5,14.85V66.25M148.5,79.1V143.35M173,14.85V66.25M173,79.1V143.35M197.5,14.85V66.25M197.5,79.1V143.35M225,14.85V66.25M225,79.1V143.35M252.5,14.85V66.25M252.5,79.1V143.35M280,14.85V66.25M280,79.1V143.35M307.5,14.85V66.25M307.5,79.1V143.35M335,14.85V66.25M335,79.1V143.35"/>
<rect class="ib" x="2" y="2" width="360.5" height="141.35"/>
<text class="c" x="182.25" y="11">PAKNECONOTHRXN</text>
<text class="c" x="182.25" y="75.3">% Explained by</text>
<text class="l"><tspan x="3.8" y="23.9">Per</tspan><tspan x="3.8" y="36.7">Base</tspan><tspan x="3.8" y="49.6">Last</tspan><tspan x="3.8" y="62.4">Diff</tspan><tspan x="3.8" y="88.1">PAKNECONOTHRXN</tspan><tspan x="3.8" y="101">PAKNEIMPGNFSXN</tspan><tspan x="3.8" y="113.8">PAKNYGDPFCSTXN</tspan><tspan x="3.8" y="126.7">PAKNYGDPGAP_</tspan><tspan x="3.8" y="139.5">Small</tspan></text>
<text class="c" y="23.9"><tspan x="87.25">2020</tspan><tspan x="111.75">2021</tspan><tspan x="136.25">2022</tspan><tspan x="160.75">2023</tspan><tspan x="185.25">2024</tspan><tspan x="211.25">2025</tspan><tspan x="238.75">2026</tspan><tspan x="266.25">2027</tspan><tspan x="293.75">2028</tspan><tspan x="321.25">2029</tspan><tspan x="348.75">2030</tspan></text>
<text class="r" y="36.7"><tspan x="97">1.496</tspan><tspan x="121.5">1.858</tspan><tspan x="146">2.021</tspan><tspan x="170.5">2.183</tspan><tspan x="195">2.342</tspan><tspan x="222.5">2.498</tspan><tspan x="250">2.653</tspan><tspan x="277.5">2.805</tspan><tspan x="305">2.958</tspan><tspan x="332.5">3.110</tspan><tspan x="360">3.263</tspan></text>
<text class="r" y="49.6"><tspan x="97">1.541</tspan><tspan x="121.5">1.917</tspan><tspan x="146">2.092</tspan><tspan x="170.5">2.263</tspan><tspan x="195">2.428</tspan><tspan x="222.5">2.588</tspan><tspan x="250">2.743</tspan><tspan x="277.5">2.896</tspan><tspan x="305">3.047</tspan><tspan x="332.5">3.197</tspan><tspan x="360">3.348</tspan></text>
<text class="r" y="62.4"><tspan x="97">0.045</tspan><tspan x="121.5">0.059</tspan><tspan x="146">0.071</tspan><tspan x="170.5">0.080</tspan><tspan x="195">0.086</tspan><tspan x="222.5">0.089</tspan><tspan x="250">0.091</tspan><tspan x="277.5">0.091</tspan><tspan x="305">0.089</tspan><tspan x="332.5">0.087</tspan><tspan x="360">0.084</tspan></text>
<text class="r" y="88.1"><tspan x="97">-0.000</tspan><tspan x="121.5">84.720</tspan><tspan x="146">91.067</tspan><tspan x="170.5">96.006</tspan><tspan x="195">99.721</tspan><tspan x="222.5">102.418</tspan><tspan x="250">104.330</tspan><tspan x="277.5">105.736</tspan><tspan x="305">106.753</tspan><tspan x="332.5">107.512</tspan><tspan x="360">108.077</tspan></text>
<text class="r" y="101"><tspan x="97">91.715</tspan><tspan x="121.5">-4.167</tspan><tspan x="146">-4.174</tspan><tspan x="170.5">-4.175</tspan><tspan x="195">-4.215</tspan><tspan x="222.5">-4.253</tspan><tspan x="250">-4.290</tspan><tspan x="277.5">-4.329</tspan><tspan x="305">-4.376</tspan><tspan x="332.5">-4.433</tspan><tspan x="360">-4.499</tspan></text>
<text class="r" y="113.8"><tspan x="97">1.839</tspan><tspan x="121.5">11.504</tspan><tspan x="146">7.426</tspan><tspan x="170.5">4.447</tspan><tspan x="195">2.535</tspan><tspan x="222.5">0.997</tspan><tspan x="250">-0.132</tspan><tspan x="277.5">-0.976</tspan><tspan x="305">-1.628</tspan><tspan x="332.5">-2.149</tspan><tspan x="360">-2.563</tspan></text>
<text class="r" y="126.7"><tspan x="97">6.453</tspan><tspan x="121.5">6.504</tspan><tspan x="146">4.312</tspan><tspan x="170.5">2.111</tspan><tspan x="195">0.485</tspan><tspan x="222.5">-0.680</tspan><tspan x="250">-1.461</tspan><tspan x="277.5">-1.955</tspan><tspan x="305">-2.243</tspan><tspan x="332.5">-2.380</tspan><tspan x="360">-2.390</tspan></text>
<text class="r" y="139.5"><tspan x="97">-0.000</tspan><tspan x="121.5">-0.000</tspan><tspan x="146">-0.000</tspan><tspan x="170.5">-0.000</tspan><tspan x="195">-0.000</tspan><tspan x="222.5">-0.000</tspan><tspan x="250">-0.000</tspan><tspan x="277.5">-0.000</tspan><tspan x="305">-0.000</tspan><tspan x="332.5">-0.000</tspan><tspan x="360">-0.000</tspan></text>
</g>

<text class="lbl" x="893" y="550">PAKNECONOTHRXN</text>
</svg>
